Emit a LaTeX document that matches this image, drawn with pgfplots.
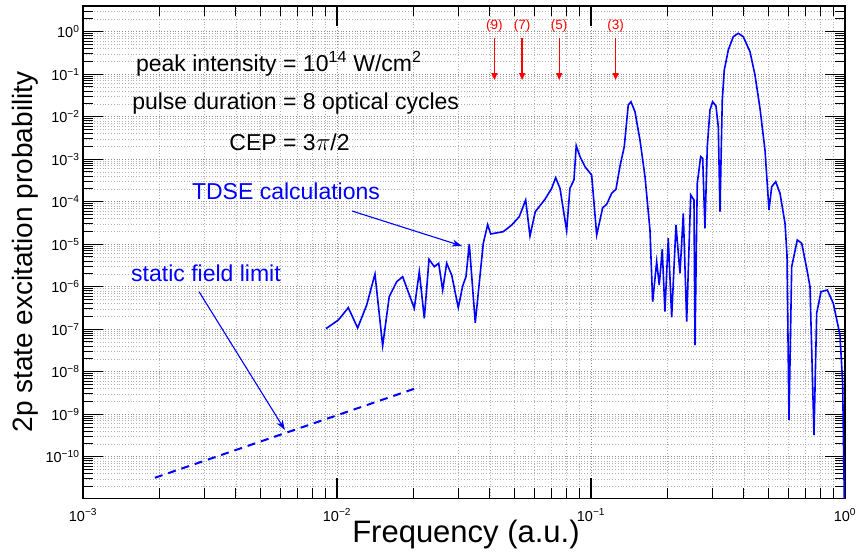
\documentclass[border=0pt]{standalone}
\usepackage{fontspec}
\setmainfont{Liberation Sans}
\usepackage{pgfplots}
\pgfplotsset{compat=1.18}
\usetikzlibrary{arrows.meta}
\newcommand\annfont{\fontsize{23}{27}\selectfont}
\newcommand\tickfont{\fontsize{14.5}{16}\selectfont}
\newcommand\harmfont{\fontsize{13.5}{14}\selectfont}
\newcommand\pt[1]{10\textsuperscript{#1}}
\definecolor{mblue}{RGB}{0,0,255}
\definecolor{mred}{RGB}{255,0,0}

\begin{document}
\begin{tikzpicture}
\begin{loglogaxis}[
  scale only axis,
  width=762pt, height=492.6pt,
  xmin=1e-3, xmax=1,
  ymin=1.05e-11, ymax=4.09,
  xtick={1e-3,1e-2,1e-1,1},
  xticklabels={\pt{−3},\pt{−2},\pt{−1},\pt{0}},
  ytick={1e-10,1e-9,1e-8,1e-7,1e-6,1e-5,1e-4,1e-3,1e-2,1e-1,1},
  yticklabels={\pt{−10},\pt{−9},\pt{−8},\pt{−7},\pt{−6},\pt{−5},\pt{−4},\pt{−3},\pt{−2},\pt{−1},\pt{0}},
  minor xtick={2e-3,3e-3,4e-3,5e-3,6e-3,7e-3,8e-3,9e-3,2e-2,3e-2,4e-2,5e-2,6e-2,7e-2,8e-2,9e-2,0.2,0.3,0.4,0.5,0.6,0.7,0.8,0.9},
  minor ytick={2e-11,3e-11,4e-11,5e-11,6e-11,7e-11,8e-11,9e-11,
    2e-10,3e-10,4e-10,5e-10,6e-10,7e-10,8e-10,9e-10,
    2e-9,3e-9,4e-9,5e-9,6e-9,7e-9,8e-9,9e-9,
    2e-8,3e-8,4e-8,5e-8,6e-8,7e-8,8e-8,9e-8,
    2e-7,3e-7,4e-7,5e-7,6e-7,7e-7,8e-7,9e-7,
    2e-6,3e-6,4e-6,5e-6,6e-6,7e-6,8e-6,9e-6,
    2e-5,3e-5,4e-5,5e-5,6e-5,7e-5,8e-5,9e-5,
    2e-4,3e-4,4e-4,5e-4,6e-4,7e-4,8e-4,9e-4,
    2e-3,3e-3,4e-3,5e-3,6e-3,7e-3,8e-3,9e-3,
    2e-2,3e-2,4e-2,5e-2,6e-2,7e-2,8e-2,9e-2,
    0.2,0.3,0.4,0.5,0.6,0.7,0.8,0.9,2,3,4},
  ticklabel style={font=\tickfont},
  xticklabel style={yshift=-7pt},
  grid=both,
  major grid style={line width=0.6pt, dash pattern=on 0.8pt off 2pt, black!45},
  minor grid style={line width=0.6pt, dash pattern=on 0.8pt off 2pt, black!30},
  tickwidth=20pt, subtickwidth=10pt,
  major tick style={draw=black, solid, line width=1.2pt},
  minor tick style={draw=black, solid, line width=1pt},
  axis line style={line width=1.6pt},
  tick align=inside,
  xlabel={Frequency (a.u.)},
  ylabel={2p state excitation probability},
  xlabel style={font=\fontsize{31}{31}\selectfont, at={(axis description cs:0.5,0)}, anchor=base, yshift=-44.4pt, xshift=2pt},
  ylabel style={font=\fontsize{28}{28}\selectfont, at={(axis description cs:-0.0761,0.5)}, anchor=center},
]
% tick marks on all four sides
\pgfplotsinvokeforeach{1e-3,1e-2,1e-1,1}{
  \draw[black, solid, line width=1.2pt] (axis cs:#1,1.05e-11) -- ([yshift=20pt]axis cs:#1,1.05e-11);
  \draw[black, solid, line width=1.2pt] (axis cs:#1,4.09) -- ([yshift=-20pt]axis cs:#1,4.09);
}
\pgfplotsinvokeforeach{2e-3,3e-3,4e-3,5e-3,6e-3,7e-3,8e-3,9e-3,2e-2,3e-2,4e-2,5e-2,6e-2,7e-2,8e-2,9e-2,0.2,0.3,0.4,0.5,0.6,0.7,0.8,0.9}{
  \draw[black, solid, line width=1pt] (axis cs:#1,1.05e-11) -- ([yshift=10pt]axis cs:#1,1.05e-11);
  \draw[black, solid, line width=1pt] (axis cs:#1,4.09) -- ([yshift=-10pt]axis cs:#1,4.09);
}
\pgfplotsinvokeforeach{1e-10,1e-9,1e-8,1e-7,1e-6,1e-5,1e-4,1e-3,1e-2,1e-1,1}{
  \draw[black, solid, line width=1.2pt] (axis cs:1e-3,#1) -- ([xshift=20pt]axis cs:1e-3,#1);
  \draw[black, solid, line width=1.2pt] (axis cs:1,#1) -- ([xshift=-20pt]axis cs:1,#1);
}
\pgfplotsinvokeforeach{2e-11,3e-11,4e-11,5e-11,6e-11,7e-11,8e-11,9e-11,
    2e-10,3e-10,4e-10,5e-10,6e-10,7e-10,8e-10,9e-10,
    2e-9,3e-9,4e-9,5e-9,6e-9,7e-9,8e-9,9e-9,
    2e-8,3e-8,4e-8,5e-8,6e-8,7e-8,8e-8,9e-8,
    2e-7,3e-7,4e-7,5e-7,6e-7,7e-7,8e-7,9e-7,
    2e-6,3e-6,4e-6,5e-6,6e-6,7e-6,8e-6,9e-6,
    2e-5,3e-5,4e-5,5e-5,6e-5,7e-5,8e-5,9e-5,
    2e-4,3e-4,4e-4,5e-4,6e-4,7e-4,8e-4,9e-4,
    2e-3,3e-3,4e-3,5e-3,6e-3,7e-3,8e-3,9e-3,
    2e-2,3e-2,4e-2,5e-2,6e-2,7e-2,8e-2,9e-2,
    0.2,0.3,0.4,0.5,0.6,0.7,0.8,0.9,2,3,4}{
  \draw[black, solid, line width=1pt] (axis cs:1e-3,#1) -- ([xshift=10pt]axis cs:1e-3,#1);
  \draw[black, solid, line width=1pt] (axis cs:1,#1) -- ([xshift=-10pt]axis cs:1,#1);
}

\addplot[mblue, line width=1.6pt] table {
x y
0.00905 1.03e-7
0.01012 1.64e-7
0.01108 3.21e-7
0.01206 1.07e-7
0.01309 3.71e-7
0.01411 1.99e-6
0.01513 4.09e-8
0.01606 5.82e-7
0.01718 1.31e-6
0.01814 1.72e-6
0.02015 3.10e-7
0.02109 2.25e-6
0.02207 1.80e-7
0.02303 4.42e-6
0.02416 2.96e-6
0.02514 3.56e-6
0.02607 8.36e-7
0.02703 3.56e-6
0.02829 1.88e-6
0.03003 3.21e-7
0.03125 1.04e-6
0.03220 1.72e-6
0.03318 1.01e-5
0.03503 1.42e-7
0.03767 1.05e-5
0.03920 2.88e-5
0.04028 1.74e-5
0.04515 1.97e-5
0.04873 2.83e-5
0.05220 4.44e-5
0.05532 1.10e-4
0.05752 1.56e-5
0.06035 5.82e-5
0.06590 1.14e-4
0.07003 2.07e-4
0.07261 3.67e-4
0.07551 2.07e-4
0.08020 2.08e-5
0.08263 2.07e-4
0.08569 3.24e-4
0.08749 2.08e-3
0.09052 1.15e-3
0.09471 6.67e-4
0.1006 4.25e-4
0.1053 1.65e-5
0.1112 7.22e-5
0.1153 8.69e-5
0.1206 1.58e-4
0.1254 1.96e-4
0.1301 6.92e-4
0.1352 1.97e-3
0.1402 1.88e-2
0.1437 2.25e-2
0.1490 1.31e-2
0.1559 2.83e-3
0.1632 3.88e-4
0.1707 2.16e-5
0.1749 4.44e-7
0.1814 3.87e-6
0.1857 1.10e-6
0.1908 7.59e-6
0.1955 2.58e-7
0.2015 1.38e-5
0.2078 1.91e-7
0.2161 2.83e-5
0.2241 2.07e-6
0.2309 5.33e-5
0.2381 1.50e-7
0.2469 1.44e-4
0.2544 1.10e-4
0.2567 4.25e-8
0.2621 2.71e-4
0.2703 1.15e-3
0.2753 1.05e-3
0.2810 2.37e-5
0.2870 1.97e-3
0.2941 1.44e-2
0.3013 2.25e-2
0.3105 1.79e-2
0.3171 5.82e-3
0.3220 5.82e-5
0.3288 2.47e-2
0.3348 0.1256
0.3472 0.371
0.3632 0.763
0.3800 0.917
0.3977 0.763
0.4227 0.338
0.4422 0.0958
0.4627 0.0158
0.4842 1.65e-3
0.5021 6.38e-5
0.5145 2.25e-4
0.5336 2.96e-4
0.5548 1.58e-4
0.5806 3.10e-5
0.5912 5.57e-6
0.6019 7.31e-10
0.6169 2.96e-6
0.6490 1.26e-5
0.6754 1.05e-5
0.7068 2.71e-6
0.7283 1.0e-6
0.7551 3.24e-10
0.7737 2.37e-7
0.8045 7.62e-7
0.8517 8.36e-7
0.8993 4.07e-7
0.9556 7.31e-8
0.979 5.33e-9
0.9995 1e-12
};
% static field limit
\addplot[mblue, line width=2pt, dash pattern=on 8pt off 6pt] coordinates {(0.00192,3.2e-11) (0.0212,4.4e-9)};

% text annotations
\node[anchor=base east, inner sep=0pt, font=\annfont] at (axis cs:0.005804,0.1145) {peak intensity};
\node[anchor=base west, inner sep=0pt, font=\annfont] at (axis cs:0.006128,0.1145) {= 10\textsuperscript{14} W/cm\textsuperscript{2}};
\node[anchor=base east, inner sep=0pt, font=\annfont] at (axis cs:0.005804,0.01438) {pulse duration};
\node[anchor=base west, inner sep=0pt, font=\annfont] at (axis cs:0.006128,0.01438) {= 8 optical cycles};
\node[anchor=base east, inner sep=0pt, font=\annfont] at (axis cs:0.005804,1.645e-3) {CEP};
\node[anchor=base west, inner sep=0pt, font=\annfont] at (axis cs:0.006128,1.645e-3) {= 3$\pi$/2};

\node[anchor=base, inner sep=0pt, font=\annfont, text=mblue] at (axis cs:0.0063,1.1e-4) {TDSE calculations};
\draw[mblue, line width=1.1pt, -{Stealth[length=10pt,width=7pt]}] (axis cs:0.01146,6.04e-5) -- (axis cs:0.03105,9.08e-6);
\node[anchor=base, inner sep=0pt, font=\annfont, text=mblue] at (axis cs:0.00305,1.31e-6) {static field limit};
\draw[mblue, line width=1.1pt, -{Stealth[length=10pt,width=7pt]}] (axis cs:0.002864,7.62e-7) -- (axis cs:0.006237,4.25e-10);

% harmonic markers
\node[font=\harmfont, text=mred, inner sep=0pt] at (axis cs:0.041667,1.36) {(9)};
\node[font=\harmfont, text=mred, inner sep=0pt] at (axis cs:0.053571,1.36) {(7)};
\node[font=\harmfont, text=mred, inner sep=0pt] at (axis cs:0.075,1.36) {(5)};
\node[font=\harmfont, text=mred, inner sep=0pt] at (axis cs:0.125,1.36) {(3)};
\draw[mred, line width=1.4pt, -{Triangle[length=7pt,width=6pt]}] (axis cs:0.041667,0.711) -- (axis cs:0.041667,0.073);
\draw[mred, line width=1.4pt, -{Triangle[length=7pt,width=6pt]}] (axis cs:0.053571,0.711) -- (axis cs:0.053571,0.073);
\draw[mred, line width=1.4pt, -{Triangle[length=7pt,width=6pt]}] (axis cs:0.075,0.711) -- (axis cs:0.075,0.073);
\draw[mred, line width=1.4pt, -{Triangle[length=7pt,width=6pt]}] (axis cs:0.125,0.711) -- (axis cs:0.125,0.073);
\end{loglogaxis}
\pgfresetboundingbox
\path[use as bounding box] ([shift={(-83pt,-55.7pt)}]current axis.south west) rectangle ([shift={(11pt,5.7pt)}]current axis.north east);
\end{tikzpicture}
\end{document}
